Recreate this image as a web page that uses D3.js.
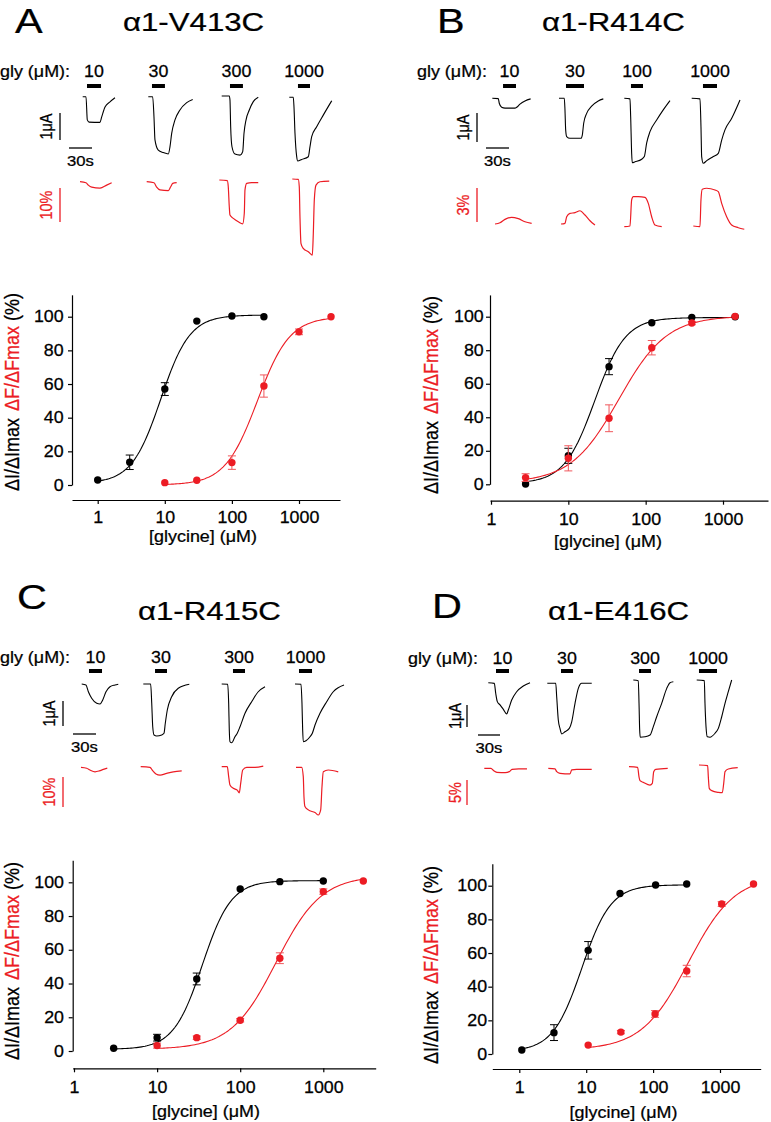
<!DOCTYPE html>
<html><head><meta charset="utf-8">
<script src="https://cdn.jsdelivr.net/npm/d3@7"></script>
<style>
body{margin:0;background:#fff}
svg{display:block}
text{font-family:"Liberation Sans",Arial,Helvetica,sans-serif}
</style>
</head><body>
<svg id="fig" width="771" height="1122"></svg>
<script>
// ---------------- DATA ----------------
const panelLetters = ["A", "B", "C", "D"];
const mutantNames = ["α1-V413C", "α1-R414C", "α1-R415C", "α1-E416C"];
const glyLabel = "gly (μM):";
const appConcA = ["10", "30", "300", "1000"];
const appConcB = ["10", "30", "100", "1000"];
const appConcC = ["10", "30", "300", "1000"];
const appConcD = ["10", "30", "300", "1000"];
// glycine application windows (s, relative to start of each current trace)
const appWinA = [[5.6, 23.9], [4.8, 21.7], [10.8, 27.7], [11.3, 27.0]];
const appWinB = [[14.0, 30.9], [9.1, 32.6], [8.7, 24.4], [14.7, 33.0]];
const appWinC = [[9.5, 26.5], [15.3, 30.9], [14.7, 30.4], [5.2, 22.2]];
const appWinD = [[10.5, 28.2], [18.7, 35.1], [7.8, 24.1], [3.1, 27.7]];
// scale bars
const scaleBarTime = 30;               // s
const scaleBarCurrent = [1, 1, 1, 1];  // μA
const scaleBarFluor = [10, 3, 10, 5];  // %
const scaleBarTimeLabel = "30s";
const scaleBarCurrentLabel = "1μA";
const scaleBarFluorLabels = ["10%", "3%", "10%", "5%"];

// current traces [time s, current μA]
const traceIA = [
  [[0,0],[4.3,0],[6,-0.86],[8.2,-0.94],[22.5,-0.95],[24.8,-0.75],[29.1,-0.38],[35.6,-0.19],[42.1,-0.04]],
  [[0,0],[5.7,0],[7.4,-0.74],[8.7,-1.6],[13,-1.98],[19.6,-2.07],[26.1,-2.12],[28.3,-1.85],[30.5,-1.36],[34.8,-0.86],[41.3,-0.49],[50.1,-0.22],[57.9,-0.1]],
  [[0,0],[9.9,0],[10.8,-0.15],[11.7,-1.14],[13.4,-1.88],[17.3,-2.15],[23.9,-2.19],[27.4,-2.06],[29.1,-1.38],[31.7,-0.89],[36,-0.52],[41.2,-0.21],[47.7,-0.05]],
  [[0,0],[5.2,0],[6.1,-0.35],[7.4,-1.32],[9.6,-2.19],[11,-2.36],[16.2,-2.3],[24.8,-2.2],[27,-1.83],[29.2,-1.46],[35.7,-1.09],[44.3,-0.66],[55.3,-0.13]]
];
const traceIB = [
  [[0,0],[7.8,-0.01],[9.1,-0.17],[12.2,-0.31],[16.6,-0.34],[29.6,-0.34],[31.8,-0.31],[36.1,-0.2],[42.6,-0.09],[50,-0.02]],
  [[0,0],[6.9,0],[7.8,-0.4],[8.7,-1.09],[10,-1.32],[14.3,-1.38],[28.7,-1.38],[30.4,-1.27],[32.2,-0.86],[36.1,-0.52],[42.6,-0.27],[51.2,-0.09],[57.8,-0.02]],
  [[0,0],[7.4,-0.02],[8.3,-0.63],[9.6,-1.9],[10.4,-2.22],[14,-2.19],[22.7,-2.1],[26.1,-2.01],[29.2,-1.54],[33.5,-1.15],[42.2,-0.75],[50.8,-0.4],[59.6,-0.08]],
  [[0,0],[10.8,-0.02],[12.1,-0.98],[13,-2.01],[15.1,-2.24],[19.6,-2.15],[28.2,-2.01],[34.7,-1.9],[39.1,-1.44],[43.4,-1.09],[52.2,-0.69],[63,-0.06]]
];
const traceIC = [
  [[0,0],[5.6,-0.04],[8.7,-0.31],[13,-0.57],[19.6,-0.77],[23.9,-0.8],[27.4,-0.64],[31.7,-0.31],[36.9,-0.11],[43.4,-0.04],[47.7,-0.01]],
  [[0,0],[9.6,0],[11,-0.77],[12.3,-1.71],[14,-2.04],[17.5,-2.08],[24,-2.04],[27,-1.97],[28.7,-1.57],[31.3,-1.04],[37,-0.51],[45.6,-0.17],[60,-0.01]],
  [[0,0],[7.8,-0.01],[9.1,-0.77],[9.9,-1.84],[10.8,-2.31],[13,-2.35],[17.3,-2.11],[20.3,-1.97],[23.9,-1.71],[30.4,-1.17],[39.1,-0.71],[47.7,-0.31],[56.5,-0.11]],
  [[0,0],[7.8,-0.01],[9.1,-0.77],[10,-1.84],[10.8,-2.31],[14.3,-2.27],[19.6,-2.11],[22.6,-1.97],[26.1,-1.64],[32.6,-1.17],[41.3,-0.71],[49.9,-0.31],[63.9,-0.04]]
];
const traceID = [
  [[0,0],[8.2,-0.03],[10.1,-0.48],[12.3,-0.86],[16,-1.01],[20.5,-1.21],[25.1,-1.42],[27.3,-1.24],[31.9,-0.79],[38.7,-0.41],[47.7,-0.15],[56.9,0]],
  [[0,0],[11.5,0],[12.8,-0.61],[15,-1.67],[17.3,-2.05],[19.6,-2.3],[24.1,-2.2],[30,-2.05],[33.3,-1.75],[37.8,-0.91],[42.3,-0.23],[46.9,0],[60.6,0]],
  [[0,0],[6.8,-0.03],[7.8,-1.06],[8.7,-2.27],[9.5,-2.6],[16,-2.58],[22.8,-2.5],[27.3,-2.12],[31.9,-1.67],[38.7,-1.06],[45.6,-0.38],[50.1,-0.12],[54.6,-0.08]],
  [[0,0],[10.4,-0.03],[11.3,-1.06],[12.7,-2.12],[14.5,-2.58],[18.1,-2.6],[25,-2.42],[29.5,-2.2],[34.1,-1.67],[38.6,-1.06],[43.1,-0.53],[47.7,0]]
];
// fluorescence traces [time s, ΔF %]
const traceFA = [
  [[0,0],[7.8,-0.3],[10.8,-1],[15.3,-1.6],[26.1,-1.9],[34.8,-1],[41.3,-0.3]],
  [[0,0],[9.5,-0.3],[13,-1.6],[17.3,-2.4],[28.2,-2.6],[31.3,-1.5],[33.9,-0.5],[39.1,-0.3]],
  [[0,0],[10.4,-0.2],[11.7,-2],[13,-7.8],[13.9,-10.3],[18.3,-11.3],[24.8,-12.3],[30.5,-12.9],[32.6,-9.8],[33.5,-2.9],[35.7,-1],[42.2,-0.8],[50.8,-0.8]],
  [[0,0],[7.8,-0.1],[9.1,-2.3],[10,-11.1],[11.3,-18.9],[14.3,-20.4],[20.9,-21.4],[26.1,-22.4],[27.4,-16],[28.7,-6.2],[30.9,-1.8],[36.1,-0.8],[48.2,-0.6]]
];
const traceFB = [
  [[0,0],[6.5,0.11],[13,0.41],[21.7,0.59],[30.4,0.47],[39.1,0.2],[47.8,0.06]],
  [[0,0],[5.2,0.06],[7.4,0.64],[11.7,0.94],[18.3,1],[24.8,1.17],[31.3,0.79],[37.8,0.29],[44.3,-0.09]],
  [[0,0],[7.4,0.06],[9.6,2.36],[11.7,2.65],[18.3,2.65],[27,2.59],[31.3,2.06],[35.7,0.88],[40,0.15],[48.8,0]],
  [[0,0],[8.7,-0.06],[10,2.3],[11.7,3.24],[17.4,3.33],[28.3,3.18],[32.6,3.03],[37,2],[43.5,0.82],[50,0.09],[58.7,-0.15],[66.5,-0.29]]
];
const traceFC = [
  [[0,0],[7.4,-0.3],[11.7,-0.9],[18.3,-1.5],[23.9,-1.2],[29.1,-0.7],[34.3,-0.3]],
  [[0,0],[12.1,-0.2],[15.6,-1.3],[19.9,-2.4],[25.2,-2.8],[33.9,-2.2],[42.5,-1.7],[53.5,-1.4]],
  [[0,0],[7.3,0],[9.1,-3.3],[10.8,-6.1],[15.1,-7.2],[20.3,-7.8],[22.9,-8.7],[24.8,-5.5],[27.4,-1.1],[32.6,-0.2],[43.4,-0.2],[54.2,0.2]],
  [[0,0],[7.4,0],[9.5,-3.1],[10.4,-9.8],[11.7,-13.1],[16,-14.2],[24.8,-15.1],[29.1,-15.9],[32.2,-14.2],[33.9,-6.5],[35.6,-1.5],[42.1,-0.9],[55.1,-1.5]]
];
const traceFD = [
  [[0,0],[9.1,0],[12.8,-0.47],[17.3,-0.8],[28.6,-0.87],[34.1,-0.67],[37.8,-0.2],[46.9,-0.13],[58.2,-0.13]],
  [[0,0],[9.1,-0.13],[11.5,-0.67],[16,-1],[29.6,-1.13],[31.9,-0.33],[38.7,-0.2],[59.2,-0.2]],
  [[0,0],[11.8,-0.13],[13.6,-2],[15,-2.8],[19.5,-3.13],[28.6,-3.67],[31.8,-3.33],[33.7,-1],[36.4,-0.53],[52.8,-0.33]],
  [[0,0],[11.8,-0.13],[12.7,-2.33],[14,-4.67],[17.3,-5.13],[26.3,-5.47],[31.8,-5.53],[33.7,-3.67],[35.5,-1.33],[40,-0.8],[52.8,-0.53]]
];

// dose-response data
const xTickValues = [1, 10, 100, 1000];
const xTickLabels = ["1", "10", "100", "1000"];
const yTickValues = [0, 20, 40, 60, 80, 100];
const yTickLabels = ["0", "20", "40", "60", "80", "100"];
const xAxisTitle = "[glycine] (μM)";

const concIA = [1, 3, 10, 30, 100, 300];
const respIA = [3, 13.5, 57, 97.4, 100.4, 100];
const errIA  = [0, 4.3, 3.8, 0, 0, 0];
const concFA = [10, 30, 100, 300, 1000, 3000];
const respFA = [1.4, 2.8, 13.3, 58.8, 91, 100];
const errFA  = [0, 0, 4, 6.6, 1.7, 0];

const concIB = [2.8, 10, 33.6, 120, 395, 1435];
const respIB = [0.2, 17, 70.2, 96.4, 99.6, 100];
const errIB  = [0, 4.5, 4.8, 0, 0, 0];
const concFB = [2.8, 10, 33.6, 120, 395, 1435];
const respFB = [4, 15.5, 39.4, 81.5, 96.2, 100.2];
const errFB  = [2.3, 7.5, 8, 4.3, 1, 0];

const concIC = [3, 10, 30, 100, 300, 1000];
const respIC = [1.6, 7.9, 42.7, 96, 100.4, 100.8];
const errIC  = [0, 2, 3.5, 0, 0, 0];
const concFC = [10, 30, 100, 300, 1000, 3030];
const respFC = [3.2, 7.9, 18.2, 55, 94.5, 100.8];
const errFC  = [1.5, 1, 1, 3.2, 1.6, 0];

const concID = [1.09, 3.3, 10.7, 32, 109, 318];
const respID = [2.4, 12.7, 61.6, 95.4, 100.4, 101];
const errID  = [0, 4.7, 5.2, 0, 0, 0];
const concFD = [10.7, 33, 107, 318, 1060, 3170];
const respFD = [5.3, 13, 23.8, 49.3, 89.1, 101];
const errFD  = [0, 1, 2, 3.4, 1.4, 0];

// Hill fits [bottom, top, EC50 μM, nH]
const fitIA = [1, 101, 8.7, 2.0];
const fitFA = [0, 100, 240, 1.8];
const fitIB = [0.5, 99.5, 22, 2.2];
const fitFB = [1, 100.5, 45, 1.4];
const fitIC = [1, 101, 35, 2.5];
const fitFC = [1, 104, 270, 1.6];
const fitID = [1.5, 100.5, 8.6, 2.0];
const fitFD = [2.5, 106, 335, 1.25];

// ---------------- STYLE / LAYOUT ----------------
const RED = "#ec1c24";
const RED_ERR = "#f0575c";
const SX = 1.15;   // horizontal text stretch of the original figure

const panels = [
  { letter: panelLetters[0], title: mutantNames[0], conc: appConcA, win: appWinA, tI: traceIA, tF: traceFA,
    letterPos: [15, 33], titlePos: [123, 31], glyPos: [0, 77], barY: 86, tPx: 23, iPx: 27, fPx: 34, sbF: scaleBarFluor[0], sbFLabel: scaleBarFluorLabels[0],
    iStarts: [[82.7,96.7],[148.3,96.7],[221.7,96],[289.3,97.3]], fStarts: [[80,181.7],[146.7,181.7],[219.3,180],[292.3,179]],
    sbX: 60, sbIY: 113, sbTY: 148, sbTX: 69, sbFY: 188, sbLabelX: 46, tLabelY: 166,
    chart: { left: 72, right: 340, y0: 485, y100: 316.7, xAxisY: 500, x1: 97.7, x1000: 299, ylabX: 11.5, ylabY: 392, xlabX: 203, xlabY: 541.5, padX: 8, padY: 3.5,
      cI: concIA, rI: respIA, eI: errIA, cF: concFA, rF: respFA, eF: errFA, fI: fitIA, fF: fitFA } },
  { letter: panelLetters[1], title: mutantNames[1], conc: appConcB, win: appWinB, tI: traceIB, tF: traceFB,
    letterPos: [437, 33], titlePos: [542, 31], glyPos: [417, 77], barY: 86, tPx: 23, iPx: 29, fPx: 34, sbF: scaleBarFluor[1], sbFLabel: scaleBarFluorLabels[1],
    iStarts: [[492.3,98.3],[559,98.3],[624.3,98.3],[691.7,98.3]], fStarts: [[495,224],[561,224],[624.3,226.7],[693.3,226]],
    sbX: 477, sbIY: 113, sbTY: 148, sbTX: 486, sbFY: 188, sbLabelX: 463, tLabelY: 166,
    chart: { left: 490, right: 768, y0: 484.3, y100: 316.7, xAxisY: 500.7, x1: 491, x1000: 723, ylabX: 431, ylabY: 395, xlabX: 608, xlabY: 547, padX: 9, padY: 1.6,
      cI: concIB, rI: respIB, eI: errIB, cF: concFB, rF: respFB, eF: errFB, fI: fitIB, fF: fitFB } },
  { letter: panelLetters[2], title: mutantNames[2], conc: appConcC, win: appWinC, tI: traceIC, tF: traceFC,
    letterPos: [17, 609], titlePos: [138, 620], glyPos: [0, 663], barY: 671, tPx: 23, iPx: 25, fPx: 30, sbF: scaleBarFluor[2], sbFLabel: scaleBarFluorLabels[2],
    iStarts: [[81.7,684],[143.3,684],[221.7,684],[295,684]], fStarts: [[81,767.3],[140.7,766.7],[221.7,766.7],[296,767.3]],
    sbX: 63, sbIY: 701, sbTY: 734, sbTX: 73, sbFY: 777, sbLabelX: 49, tLabelY: 751.5,
    chart: { left: 72.7, right: 375.7, y0: 1051, y100: 882.3, xAxisY: 1068.3, x1: 74, x1000: 323.3, ylabX: 11.5, ylabY: 961, xlabX: 206, xlabY: 1117, padX: 9.5, padY: 3.8,
      cI: concIC, rI: respIC, eI: errIC, cF: concFC, rF: respFC, eF: errFC, fI: fitIC, fF: fitFC } },
  { letter: panelLetters[3], title: mutantNames[3], conc: appConcD, win: appWinD, tI: traceID, tF: traceFD,
    letterPos: [432, 618], titlePos: [548, 620], glyPos: [408, 664], barY: 671, tPx: 22, iPx: 22, fPx: 25, sbF: scaleBarFluor[3], sbFLabel: scaleBarFluorLabels[3],
    iStarts: [[488.3,682.7],[547.3,683.3],[633.3,680],[696.7,680]], fStarts: [[484.3,768.3],[548.3,768.3],[629,766.7],[699,765]],
    sbX: 467, sbIY: 705, sbTY: 735, sbTX: 478, sbFY: 780, sbLabelX: 455, tLabelY: 752.5,
    chart: { left: 492.3, right: 760.7, y0: 1054, y100: 885.7, xAxisY: 1069, x1: 519.3, x1000: 720, ylabX: 431, ylabY: 965, xlabX: 623.5, xlabY: 1117.5, padX: 8.5, padY: 0.7,
      cI: concID, rI: respID, eI: errID, cF: concFD, rF: respFD, eF: errFD, fI: fitID, fF: fitFD } }
];

// ---------------- DRAW ----------------
const svg = d3.select("#fig");
svg.append("rect").attr("width", 771).attr("height", 1122).attr("fill", "#fff");

function addText(sel, str, x, y, size, opts = {}) {
  const sx = opts.sx || SX;
  const fill = opts.fill || "#000";
  const t = sel.append("text")
    .attr("transform", `translate(${x},${y}) scale(${sx},1)` + (opts.rot ? " rotate(-90)" : ""))
    .attr("font-size", size)
    .attr("text-anchor", opts.anchor || "start")
    .attr("fill", fill).attr("stroke", fill).attr("stroke-width", 0.25);
  if (opts.dy) t.attr("dy", opts.dy);
  t.text(str);
  return t;
}

const hill = (p, c) => p[0] + (p[1] - p[0]) / (1 + Math.pow(p[2] / c, p[3]));

panels.forEach(P => {
  const g = svg.append("g");
  // header
  addText(g, P.letter, P.letterPos[0], P.letterPos[1], 36);
  addText(g, P.title, P.titlePos[0], P.titlePos[1], 26, { sx: 1.2 });
  addText(g, glyLabel, P.glyPos[0], P.glyPos[1], 16, { sx: 1.12 });

  // scales for traces
  const tS = d3.scaleLinear().domain([0, scaleBarTime]).range([0, P.tPx]);
  const iS = d3.scaleLinear().domain([0, 1]).range([0, -P.iPx]);
  const fS = d3.scaleLinear().domain([0, P.sbF]).range([0, -P.fPx]);

  // application bars + concentration labels
  P.win.forEach((w, k) => {
    const [sx, sy] = P.iStarts[k];
    const x0 = sx + tS(w[0]), x1 = sx + tS(w[1]);
    g.append("rect").attr("x", x0).attr("y", P.barY - 2).attr("width", x1 - x0).attr("height", 4).attr("fill", "#000");
    addText(g, P.conc[k], (x0 + x1) / 2, P.glyPos[1], 16.5, { anchor: "middle", sx: 1.08 });
  });

  // traces
  P.tI.forEach((tr, k) => {
    const [sx, sy] = P.iStarts[k];
    const line = d3.line().x(d => sx + tS(d[0])).y(d => sy + iS(d[1])).curve(d3.curveMonotoneX);
    g.append("path").attr("d", line(tr)).attr("fill", "none").attr("stroke", "#000").attr("stroke-width", 1.1);
  });
  P.tF.forEach((tr, k) => {
    const [sx, sy] = P.fStarts[k];
    const line = d3.line().x(d => sx + tS(d[0])).y(d => sy + fS(d[1])).curve(d3.curveMonotoneX);
    g.append("path").attr("d", line(tr)).attr("fill", "none").attr("stroke", RED).attr("stroke-width", 1.2);
  });

  // scale bars
  g.append("line").attr("x1", P.sbX).attr("x2", P.sbX).attr("y1", P.sbIY).attr("y2", P.sbIY - iS(scaleBarCurrent[0]))
    .attr("stroke", "#000").attr("stroke-width", 1.3);
  addText(g, scaleBarCurrentLabel, P.sbLabelX, P.sbIY - iS(scaleBarCurrent[0]) / 2, 14.5, { rot: true, anchor: "middle", dy: "0.35em" });
  g.append("line").attr("x1", P.sbTX).attr("x2", P.sbTX + tS(scaleBarTime)).attr("y1", P.sbTY).attr("y2", P.sbTY)
    .attr("stroke", "#000").attr("stroke-width", 1.3);
  addText(g, scaleBarTimeLabel, P.sbTX + tS(scaleBarTime) / 2, P.tLabelY, 14.5, { anchor: "middle" });
  g.append("line").attr("x1", P.sbX).attr("x2", P.sbX).attr("y1", P.sbFY).attr("y2", P.sbFY - fS(P.sbF))
    .attr("stroke", RED).attr("stroke-width", 1.3);
  addText(g, P.sbFLabel, P.sbLabelX, P.sbFY - fS(P.sbF) / 2, 14.5, { rot: true, anchor: "middle", dy: "0.35em", fill: RED });

  // ---- dose-response chart ----
  const C = P.chart;
  const tmp = d3.scaleLog().domain([1, 1000]).range([C.x1, C.x1000]);
  const x = d3.scaleLog().domain([tmp.invert(C.left), tmp.invert(C.right)]).range([C.left, C.right]);
  const yTopVal = 113;
  const y = d3.scaleLinear().domain([0, 100]).range([C.y0, C.y100]);
  const yAx = d3.scaleLinear().domain([0, yTopVal]).range([C.y0, y(yTopVal)]);

  const xa = g.append("g").attr("transform", `translate(0,${C.xAxisY})`)
    .call(d3.axisBottom(x).tickValues(xTickValues).tickFormat((d, i) => xTickLabels[i]).tickSize(4).tickSizeOuter(0).tickPadding(C.padX));
  const ya = g.append("g").attr("transform", `translate(${C.left},0)`)
    .call(d3.axisLeft(yAx).tickValues(yTickValues).tickFormat((d, i) => yTickLabels[i]).tickSize(4).tickSizeOuter(0).tickPadding(C.padY));
  [xa, ya].forEach(a => {
    a.attr("font-family", null).attr("font-size", null);
    a.selectAll("path,line").attr("stroke", "#000").attr("stroke-width", 1.2);
    a.selectAll("text").attr("font-size", 16).attr("fill", "#000").attr("stroke", "#000").attr("stroke-width", 0.25)
      .attr("transform", `scale(${SX * 0.97},1)`);
  });

  addText(g, xAxisTitle, C.xlabX, C.xlabY, 16, { anchor: "middle", sx: 1.12 });
  const yl = g.append("text")
    .attr("transform", `translate(${C.ylabX},${C.ylabY}) scale(${SX},1) rotate(-90)`)
    .attr("text-anchor", "middle").attr("font-size", 18).attr("dy", "0.35em").attr("stroke-width", 0.25);
  yl.append("tspan").attr("fill", "#000").attr("stroke", "#000").text("ΔI/ΔImax");
  yl.append("tspan").attr("fill", RED).attr("stroke", RED).attr("dx", 7).text("ΔF/ΔFmax");
  yl.append("tspan").attr("fill", "#000").attr("stroke", "#000").text(" (%)");

  // fits
  const fitLine = d3.line().x(d => x(d[0])).y(d => y(d[1]));
  const series = [
    { c: C.cI, r: C.rI, e: C.eI, f: C.fI, col: "#000", ecol: "#000" },
    { c: C.cF, r: C.rF, e: C.eF, f: C.fF, col: RED, ecol: RED_ERR }
  ];
  series.forEach(s => {
    const lo = Math.log10(s.c[0]), hi = Math.log10(s.c[s.c.length - 1]);
    const pts = d3.range(0, 121).map(i => { const c = Math.pow(10, lo + (hi - lo) * i / 120); return [c, hill(s.f, c)]; });
    g.append("path").attr("d", fitLine(pts)).attr("fill", "none").attr("stroke", s.col).attr("stroke-width", 1.1);
  });
  series.forEach(s => {
    s.c.forEach((c, i) => {
      if (s.e[i] > 0) {
        const cx = x(c);
        const yA = y(s.r[i] + s.e[i]), yB = y(s.r[i] - s.e[i]);
        g.append("line").attr("x1", cx).attr("x2", cx).attr("y1", yA).attr("y2", yB).attr("stroke", s.ecol).attr("stroke-width", 1);
        g.append("line").attr("x1", cx - 4).attr("x2", cx + 4).attr("y1", yA).attr("y2", yA).attr("stroke", s.ecol).attr("stroke-width", 1);
        g.append("line").attr("x1", cx - 4).attr("x2", cx + 4).attr("y1", yB).attr("y2", yB).attr("stroke", s.ecol).attr("stroke-width", 1);
      }
    });
    g.selectAll(null).data(s.c).enter().append("circle")
      .attr("cx", d => x(d)).attr("cy", (d, i) => y(s.r[i])).attr("r", 3.7).attr("fill", s.col);
  });
});
</script>
</body></html>
